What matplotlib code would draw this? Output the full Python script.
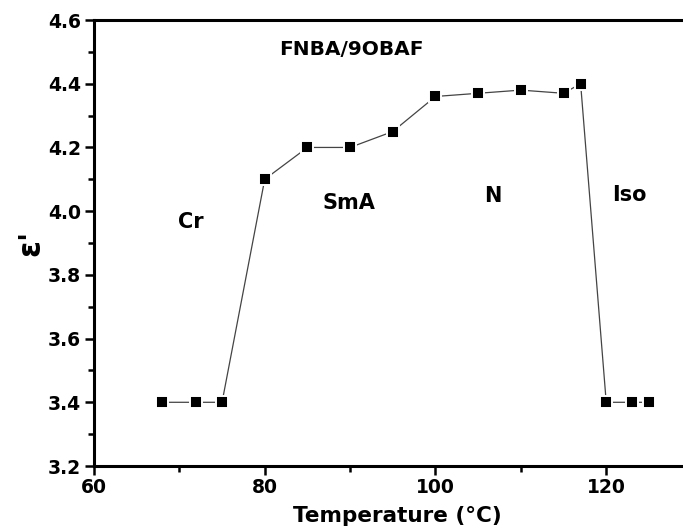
import numpy as np
import matplotlib.pyplot as plt
from matplotlib.ticker import MultipleLocator

plt.rcParams['font.family'] = ['DejaVu Sans']
plt.rcParams['font.weight'] = 'bold'

# data
temperature = [68, 72, 75, 80, 85, 90, 95, 100, 105, 110, 115, 117, 120, 123, 125]
epsilon = [3.40, 3.40, 3.40, 4.10, 4.20, 4.20, 4.25, 4.36, 4.37, 4.38, 4.37, 4.40, 3.40, 3.40, 3.40]

phase_labels = ["Cr", "SmA", "N", "Iso"]
phase_x = [71.3, 89.9, 106.7, 122.7]
phase_y = [3.966, 4.026, 4.048, 4.05]

fig = plt.figure(figsize=(6.83, 5.31), dpi=100)
ax = fig.add_axes([0.1376, 0.1224, 0.875, 0.8399])

ax.plot(temperature, epsilon, color='#444444', lw=0.9,
        marker='s', markersize=8.5, markerfacecolor='black',
        markeredgecolor='white', markeredgewidth=1.4)

ax.set_xlim(60, 130)
ax.set_ylim(3.2, 4.6)
ax.xaxis.set_major_locator(MultipleLocator(20))
ax.xaxis.set_minor_locator(MultipleLocator(10))
ax.yaxis.set_major_locator(MultipleLocator(0.2))
ax.yaxis.set_minor_locator(MultipleLocator(0.1))
ax.yaxis.set_major_formatter(plt.FormatStrFormatter('%.1f'))

for s in ax.spines.values():
    s.set_linewidth(2.2)
ax.spines['right'].set_visible(False)
ax.tick_params(which='major', direction='out', length=6.5, width=1.8, labelsize=13.5, pad=3)
ax.tick_params(which='minor', direction='out', length=4.3, width=1.8)
ax.tick_params(axis='x', which='major', pad=2)
for lab in ax.get_xticklabels() + ax.get_yticklabels():
    lab.set_fontweight('bold')

ax.set_xlabel("Temperature (°C)", fontsize=15.5, fontweight='bold')
ax.xaxis.set_label_coords(0.508, -0.09)
ax.set_ylabel("ε'", fontsize=22, fontweight='bold', labelpad=2)

ax.text(90.2, 4.509, "FNBA/9OBAF", fontsize=14.5, fontweight='bold', ha='center', va='center')
for lab, x, y in zip(phase_labels, phase_x, phase_y):
    ax.text(x, y, lab, fontsize=15, fontweight='bold', ha='center', va='center')

fig.savefig('out.png', dpi=100)
